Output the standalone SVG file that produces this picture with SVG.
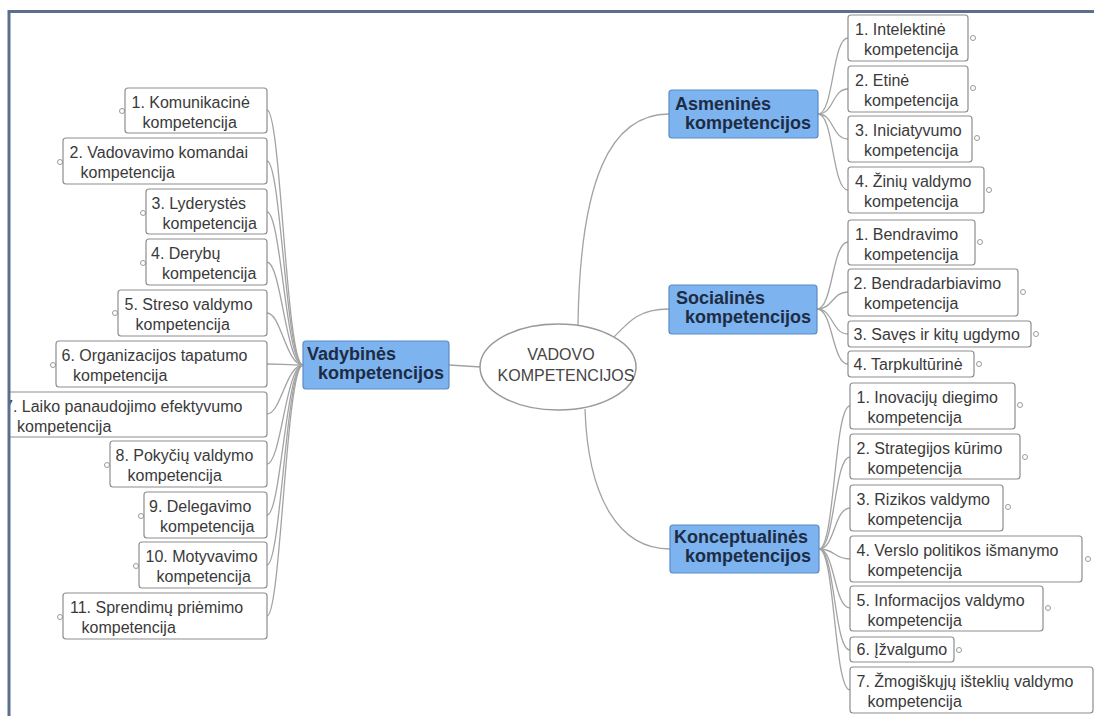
<svg xmlns="http://www.w3.org/2000/svg" width="1094" height="716" viewBox="0 0 1094 716">
  <style>
    .leaf rect { fill: #ffffff; stroke: #8e8e8e; stroke-width: 1.2; }
    .leaf text { font-family: "Liberation Sans", Arial, sans-serif; font-size: 16px; fill: #3a3a3a; }
    .knob { fill: #ffffff; stroke: #9a9a9a; stroke-width: 1; }
    .branch rect { fill: #7db3ee; stroke: #5a8cc8; stroke-width: 1.2; }
    .branch text { font-family: "Liberation Sans", Arial, sans-serif; font-size: 18px; font-weight: bold; fill: #1d2c45; }
    .root ellipse { fill: #ffffff; stroke: #9a9a9a; stroke-width: 1.5; }
    .root text { font-family: "Liberation Sans", Arial, sans-serif; font-size: 16px; fill: #454545; text-anchor: middle; }
    #connectors path { fill: none; stroke: #a3a3a3; stroke-width: 1.3; }
    .frame { stroke: #5d6e8c; stroke-width: 3; fill: none; }
  </style>
  <defs>
    <clipPath id="page">
      <rect x="10" y="13" width="1084" height="703"/>
    </clipPath>
  </defs>

  <rect x="0" y="0" width="1094" height="716" fill="#ffffff"/>

  <g clip-path="url(#page)">
    <!-- connectors -->
    <g id="connectors">
      <!-- root to main branches -->
      <path d="M449 365 L481 367"/>
      <path d="M578 325 C580 180 610 114 669 114"/>
      <path d="M614 337 C630 320 640 309 669 309"/>
      <path d="M585 409 C588 500 620 549 670 549"/>
      <!-- Vadybinės to its items -->
      <path d="M303 365 C286 365 281 110 267 110"/>
      <path d="M303 365 C286 365 281 161 267 161"/>
      <path d="M303 365 C286 365 281 212 267 212"/>
      <path d="M303 365 C286 365 281 262 267 262"/>
      <path d="M303 365 C286 365 281 313 267 313"/>
      <path d="M303 365 C286 365 281 364 267 364"/>
      <path d="M303 365 C286 365 281 414 267 414"/>
      <path d="M303 365 C286 365 281 464 267 464"/>
      <path d="M303 365 C286 365 281 515 267 515"/>
      <path d="M303 365 C286 365 281 565 267 565"/>
      <path d="M303 365 C286 365 281 616 267 616"/>
      <!-- Asmeninės to its items -->
      <path d="M818 114 C834 114 832 38 848 38"/>
      <path d="M818 114 C834 114 832 89 848 89"/>
      <path d="M818 114 C834 114 832 139 848 139"/>
      <path d="M818 114 C834 114 832 190 848 190"/>
      <!-- Socialinės to its items -->
      <path d="M817 309 C833 309 832 242 848 242"/>
      <path d="M817 309 C833 309 832 292 848 292"/>
      <path d="M817 309 C833 309 832 334 848 334"/>
      <path d="M817 309 C833 309 832 364 848 364"/>
      <!-- Konceptualinės to its items -->
      <path d="M819 549 C835 549 834 406 850 406"/>
      <path d="M819 549 C835 549 834 457 850 457"/>
      <path d="M819 549 C835 549 834 508 850 508"/>
      <path d="M819 549 C835 549 834 559 850 559"/>
      <path d="M819 549 C835 549 834 608 850 608"/>
      <path d="M819 549 C835 549 834 650 850 650"/>
      <path d="M819 549 C835 549 834 690 850 690"/>
    </g>

    <!-- central topic -->
    <g id="root" class="root">
      <ellipse cx="558" cy="367" rx="78" ry="43"/>
      <text x="561" y="360">VADOVO</text>
      <text x="566" y="381">KOMPETENCIJOS</text>
    </g>

    <!-- main branches -->
    <g id="vadybines" class="branch">
      <rect x="303" y="341" width="146" height="48" rx="3"/>
      <text x="307" y="360">Vadybinės</text>
      <text x="318" y="379">kompetencijos</text>
    </g>
    <g id="asmenines" class="branch">
      <rect x="669" y="90" width="149" height="48" rx="3"/>
      <text x="675" y="110">Asmeninės</text>
      <text x="685" y="129">kompetencijos</text>
    </g>
    <g id="socialines" class="branch">
      <rect x="669" y="285" width="148" height="49" rx="3"/>
      <text x="676" y="304">Socialinės</text>
      <text x="685" y="323">kompetencijos</text>
    </g>
    <g id="konceptualines" class="branch">
      <rect x="670" y="525" width="149" height="48" rx="3"/>
      <text x="674" y="543">Konceptualinės</text>
      <text x="685" y="562">kompetencijos</text>
    </g>

    <!-- Vadybinės items -->
    <g id="v1" class="leaf">
      <circle class="knob" cx="122" cy="111" r="2.5"/>
      <rect x="125" y="88" width="142" height="45" rx="3"/>
      <text x="131.5" y="108">1. Komunikacinė</text>
      <text x="142.5" y="127.5">kompetencija</text>
    </g>
    <g id="v2" class="leaf">
      <circle class="knob" cx="60" cy="162" r="2.5"/>
      <rect x="63" y="138" width="204" height="46" rx="3"/>
      <text x="69.5" y="158">2. Vadovavimo komandai</text>
      <text x="80.5" y="177.5">kompetencija</text>
    </g>
    <g id="v3" class="leaf">
      <circle class="knob" cx="143" cy="213" r="2.5"/>
      <rect x="146" y="189" width="121" height="45" rx="3"/>
      <text x="151.5" y="209">3. Lyderystės</text>
      <text x="162.5" y="228.5">kompetencija</text>
    </g>
    <g id="v4" class="leaf">
      <circle class="knob" cx="143" cy="263" r="2.5"/>
      <rect x="146" y="239" width="121" height="46" rx="3"/>
      <text x="151" y="259">4. Derybų</text>
      <text x="162" y="278.5">kompetencija</text>
    </g>
    <g id="v5" class="leaf">
      <circle class="knob" cx="115" cy="313" r="2.5"/>
      <rect x="118" y="290" width="149" height="46" rx="3"/>
      <text x="124.5" y="310">5. Streso valdymo</text>
      <text x="135.5" y="329.5">kompetencija</text>
    </g>
    <g id="v6" class="leaf">
      <circle class="knob" cx="53" cy="365" r="2.5"/>
      <rect x="56" y="341" width="211" height="46" rx="3"/>
      <text x="61.5" y="361">6. Organizacijos tapatumo</text>
      <text x="73" y="380.5">kompetencija</text>
    </g>
    <g id="v7" class="leaf">
      <rect x="-10" y="392" width="277" height="45" rx="3"/>
      <text x="4" y="412">7. Laiko panaudojimo efektyvumo</text>
      <text x="17" y="431.5">kompetencija</text>
    </g>
    <g id="v8" class="leaf">
      <circle class="knob" cx="107" cy="465" r="2.5"/>
      <rect x="110" y="441" width="157" height="46" rx="3"/>
      <text x="115.5" y="461">8. Pokyčių valdymo</text>
      <text x="127.5" y="480.5">kompetencija</text>
    </g>
    <g id="v9" class="leaf">
      <circle class="knob" cx="141" cy="516" r="2.5"/>
      <rect x="144" y="492" width="123" height="46" rx="3"/>
      <text x="149" y="512">9. Delegavimo</text>
      <text x="160" y="531.5">kompetencija</text>
    </g>
    <g id="v10" class="leaf">
      <circle class="knob" cx="136" cy="566" r="2.5"/>
      <rect x="139" y="542" width="128" height="46" rx="3"/>
      <text x="145.5" y="562">10. Motyvavimo</text>
      <text x="156.5" y="581.5">kompetencija</text>
    </g>
    <g id="v11" class="leaf">
      <circle class="knob" cx="60" cy="617" r="2.5"/>
      <rect x="63" y="593" width="204" height="46" rx="3"/>
      <text x="70" y="613">11. Sprendimų priėmimo</text>
      <text x="81.5" y="632.5">kompetencija</text>
    </g>

    <!-- Asmeninės items -->
    <g id="a1" class="leaf">
      <rect x="848" y="15" width="120" height="46" rx="3"/>
      <circle class="knob" cx="973" cy="38" r="2.5"/>
      <text x="855" y="35">1. Intelektinė</text>
      <text x="864" y="54.5">kompetencija</text>
    </g>
    <g id="a2" class="leaf">
      <rect x="848" y="66" width="120" height="46" rx="3"/>
      <circle class="knob" cx="973" cy="88" r="2.5"/>
      <text x="855" y="86">2. Etinė</text>
      <text x="864" y="105.5">kompetencija</text>
    </g>
    <g id="a3" class="leaf">
      <rect x="848" y="116" width="124" height="46" rx="3"/>
      <circle class="knob" cx="977" cy="138" r="2.5"/>
      <text x="855" y="136">3. Iniciatyvumo</text>
      <text x="864" y="155.5">kompetencija</text>
    </g>
    <g id="a4" class="leaf">
      <rect x="848" y="167" width="136" height="46" rx="3"/>
      <circle class="knob" cx="989" cy="190" r="2.5"/>
      <text x="855" y="187">4. Žinių valdymo</text>
      <text x="864" y="206.5">kompetencija</text>
    </g>

    <!-- Socialinės items -->
    <g id="s1" class="leaf">
      <rect x="848" y="220" width="127" height="45" rx="3"/>
      <circle class="knob" cx="980" cy="242" r="2.5"/>
      <text x="855" y="240">1. Bendravimo</text>
      <text x="864" y="259.5">kompetencija</text>
    </g>
    <g id="s2" class="leaf">
      <rect x="848" y="269" width="170" height="47" rx="3"/>
      <circle class="knob" cx="1023" cy="292" r="2.5"/>
      <text x="853.5" y="289">2. Bendradarbiavimo</text>
      <text x="864" y="308.5">kompetencija</text>
    </g>
    <g id="s3" class="leaf">
      <rect x="848" y="321" width="183" height="26" rx="3"/>
      <circle class="knob" cx="1036" cy="334" r="2.5"/>
      <text x="853.5" y="339.5">3. Savęs ir kitų ugdymo</text>
    </g>
    <g id="s4" class="leaf">
      <rect x="848" y="351" width="126" height="26" rx="3"/>
      <circle class="knob" cx="979" cy="364" r="2.5"/>
      <text x="853.5" y="369.5">4. Tarpkultūrinė</text>
    </g>

    <!-- Konceptualinės items -->
    <g id="k1" class="leaf">
      <rect x="850" y="383" width="165" height="46" rx="3"/>
      <circle class="knob" cx="1020" cy="405" r="2.5"/>
      <text x="856.5" y="403">1. Inovacijų diegimo</text>
      <text x="867.5" y="422.5">kompetencija</text>
    </g>
    <g id="k2" class="leaf">
      <rect x="850" y="434" width="170" height="45" rx="3"/>
      <circle class="knob" cx="1025" cy="457" r="2.5"/>
      <text x="856.5" y="454">2. Strategijos kūrimo</text>
      <text x="867.5" y="473.5">kompetencija</text>
    </g>
    <g id="k3" class="leaf">
      <rect x="850" y="485" width="153" height="46" rx="3"/>
      <circle class="knob" cx="1008" cy="507" r="2.5"/>
      <text x="856.5" y="505">3. Rizikos valdymo</text>
      <text x="867.5" y="524.5">kompetencija</text>
    </g>
    <g id="k4" class="leaf">
      <rect x="850" y="536" width="232" height="46" rx="3"/>
      <circle class="knob" cx="1088" cy="559" r="2.5"/>
      <text x="856.5" y="556">4. Verslo politikos išmanymo</text>
      <text x="867.5" y="575.5">kompetencija</text>
    </g>
    <g id="k5" class="leaf">
      <rect x="850" y="586" width="193" height="45" rx="3"/>
      <circle class="knob" cx="1048" cy="608" r="2.5"/>
      <text x="856.5" y="606">5. Informacijos valdymo</text>
      <text x="867.5" y="625.5">kompetencija</text>
    </g>
    <g id="k6" class="leaf">
      <rect x="850" y="637" width="104" height="25" rx="3"/>
      <circle class="knob" cx="959" cy="650" r="2.5"/>
      <text x="856.5" y="655">6. Įžvalgumo</text>
    </g>
    <g id="k7" class="leaf">
      <rect x="850" y="667" width="243" height="46" rx="3"/>
      <text x="856.5" y="687">7. Žmogiškųjų išteklių valdymo</text>
      <text x="867.5" y="706.5">kompetencija</text>
    </g>
  </g>

  <!-- page frame -->
  <path class="frame" d="M9 716 L9 11.5 L1094 11.5"/>
</svg>
